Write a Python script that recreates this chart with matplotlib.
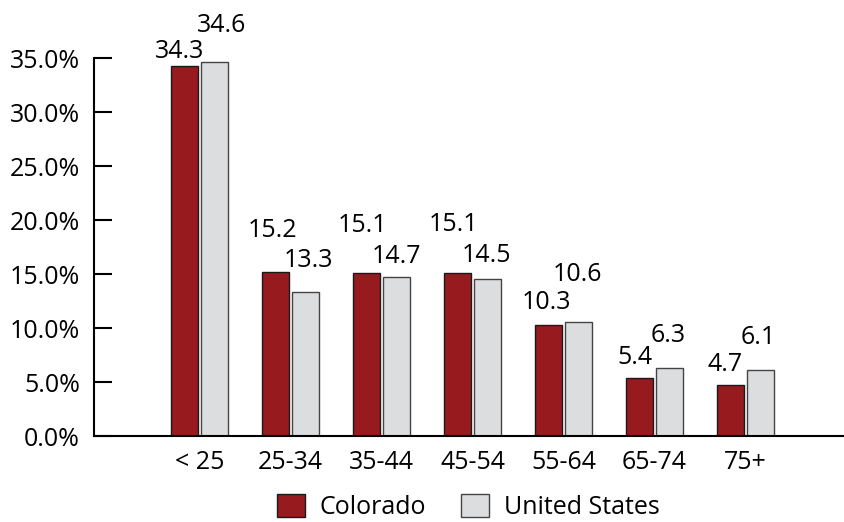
import matplotlib.pyplot as plt
import numpy as np

# Age group share, Colorado vs United States (%)
age_groups = ['< 25', '25-34', '35-44', '45-54', '55-64', '65-74', '75+']
colorado = [34.3, 15.2, 15.1, 15.1, 10.3, 5.4, 4.7]
united_states = [34.6, 13.3, 14.7, 14.5, 10.6, 6.3, 6.1]

# label offsets from bar top (pixels, dx / dy to digit centre) - the source places them by hand
co_off = [(-5, 17), (-3, 44), (-4, 50), (-4, 51), (-2, 25), (-5, 23), (-5, 23)]
us_off = [(7, 39), (3, 34), (0, 23), (-1, 26), (-1, 50), (-1, 35), (-2, 35)]

plt.rcParams['font.family'] = ['Open Sans', 'DejaVu Sans']
fs = 18

fig = plt.figure(figsize=(8.44, 5.22), dpi=100)
ax = fig.add_axes([94 / 844, 86 / 522, 750 / 844, 378 / 522])

x = np.arange(len(age_groups))
w = 0.297
off = 0.165
ax.bar(x - off, colorado, w, color='#971a1f', edgecolor='#1a1a1a', linewidth=1, label='Colorado')
ax.bar(x + off, united_states, w, color='#dcddde', edgecolor='#444444', linewidth=1, label='United States')

for i in range(len(x)):
    for val, xo, (dx, dy) in [(colorado[i], -off, co_off[i]), (united_states[i], off, us_off[i])]:
        ax.annotate(f'{val:.1f}', (x[i] + xo, val), xytext=(dx, dy - 9),
                    textcoords='offset pixels', ha='center', va='baseline',
                    fontsize=fs, annotation_clip=False)

ax.set_xlim(-1.159, 7.082)
ax.set_ylim(0, 35)
ax.set_yticks(np.arange(0, 36, 5))
ax.set_yticklabels([f'{v:.1f}%' for v in np.arange(0, 36, 5)])
ax.set_xticks(x)
ax.set_xticklabels(age_groups)

ax.spines['top'].set_visible(False)
ax.spines['right'].set_visible(False)
ax.spines['left'].set_linewidth(1.5)
ax.spines['bottom'].set_linewidth(1.5)
ax.tick_params(axis='y', direction='in', length=13, width=1.5, labelsize=fs, pad=10)
ax.tick_params(axis='x', length=0, labelsize=fs, pad=10)

fig.legend(loc='lower center', bbox_to_anchor=(0.555, -0.02), ncol=2, frameon=False,
           fontsize=fs, handlelength=1.1, handleheight=1.0, handletextpad=0.6,
           columnspacing=1.4, borderpad=0)

fig.savefig('out.png', dpi=100)
